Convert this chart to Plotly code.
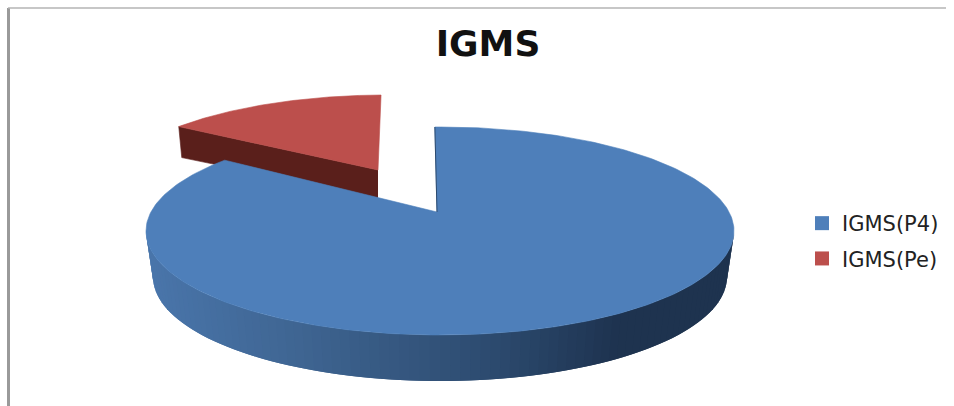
import numpy as np
import plotly.graph_objects as go

# --- data ---
categories = ["IGMS(P4)", "IGMS(Pe)"]
values = [87.2, 12.8]
title_text = "IGMS"

# --- styling ---
top_colors = ["#4e7fba", "#bc4f4c"]
red_side = "#5a1f1b"
blue_side_stops = [(146, (74, 118, 171)), (300, (63, 101, 146)), (500, (44, 74, 110)),
                   (620, (30, 51, 80)), (734, (31, 52, 79))]

W, H = 954, 406
total = sum(values)
sweep_blue = 360 * values[0] / total
sweep_red = 360 * values[1] / total
start = -1.0


def arc(cx, cy, rx, ry, a0, a1, n=160):
    a = np.radians(np.linspace(a0, a1, n))
    return cx + rx * np.sin(a), cy - ry * np.cos(a)


def side_color(x):
    xs = [s[0] for s in blue_side_stops]
    rgb = [np.interp(x, xs, [s[1][i] for s in blue_side_stops]) for i in range(3)]
    return "rgb(%d,%d,%d)" % tuple(int(v) for v in rgb)


fig = go.Figure()


def poly(xs, ys, color, lw=0.6):
    fig.add_trace(go.Scatter(x=list(xs), y=list(ys), mode="lines", fill="toself",
                             fillcolor=color, line=dict(color=color, width=lw),
                             hoverinfo="skip", showlegend=False))


# exploded slice (red)
r_apex = (378, 170)
r_depth = 28
r_a0 = start + sweep_blue
rx_, ry_ = arc(386, 194, 283, 99, r_a0, r_a0 + sweep_red)
poly([r_apex[0], rx_[0], rx_[0] + 3, r_apex[0]],
     [r_apex[1], ry_[0], ry_[0] + r_depth + 3, r_apex[1] + r_depth], red_side)
poly(np.r_[r_apex[0], rx_, r_apex[0]], np.r_[r_apex[1], ry_, r_apex[1]], top_colors[1])

# blue side wall, strip by strip; each strip overlaps the next so no seams show
n = 90
a_edges = np.linspace(90, 270, n + 1)
for i in range(n):
    a_end = min(a_edges[i + 1] + 2.0, 270)
    tx, ty = arc(440, 231, 294, 104, a_edges[i], a_end, 5)
    bx, by = arc(440, 277, 287, 104, a_edges[i], a_end, 5)
    poly(np.r_[tx, bx[::-1]], np.r_[ty, by[::-1]], side_color(tx[:3].mean()), lw=0)

# blue top face
apex = (437, 212)
bx, by = arc(440, 231, 294, 104, start, start + sweep_blue, 300)
poly(np.r_[apex[0], bx, apex[0]], np.r_[apex[1], by, apex[1]], top_colors[0])
# thin dark cut edge
fig.add_trace(go.Scatter(x=[bx[0], apex[0]], y=[by[0], apex[1]], mode="lines",
                         line=dict(color="#2c4a6e", width=1), hoverinfo="skip", showlegend=False))

# legend entries
for name, col in zip(categories, top_colors):
    fig.add_trace(go.Scatter(x=[None], y=[None], mode="markers", name=name, legendgroup=name,
                             marker=dict(symbol="square", size=14, color=col)))

fig.update_layout(
    width=W, height=H, autosize=False,
    margin=dict(l=0, r=0, t=0, b=0),
    paper_bgcolor="white", plot_bgcolor="white",
    xaxis=dict(range=[0, W], visible=False, fixedrange=True),
    yaxis=dict(range=[H, 0], visible=False, fixedrange=True),
    title=dict(text="<b>%s</b>" % title_text, x=488 / W, xanchor="center",
               y=1 - 43 / H, yanchor="middle",
               font=dict(family="DejaVu Sans", size=36, color="#111111")),
    legend=dict(x=802 / W, y=1 - 203 / H, xanchor="left", yanchor="top",
                bgcolor="rgba(0,0,0,0)", tracegroupgap=5, itemwidth=30,
                font=dict(family="DejaVu Sans", size=21, color="#222222")),
    shapes=[
        dict(type="line", xref="x", yref="y", x0=8.5, x1=8.5, y0=8, y1=H, line=dict(color="#9a9a9a", width=3)),
        dict(type="line", xref="x", yref="y", x0=8, x1=W - 8, y0=8, y1=8, line=dict(color="#b5b5b5", width=1.5)),
    ],
)

fig.write_html("out.html", config={"displayModeBar": False},
               post_script="document.body.style.margin='0';")
